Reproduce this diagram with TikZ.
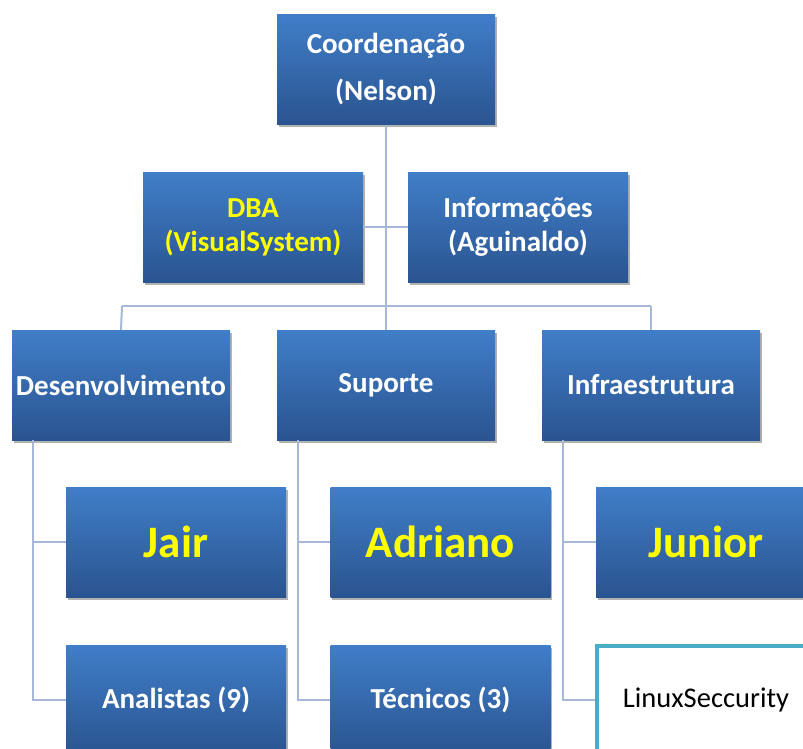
\documentclass[tikz,border=0pt]{standalone}
\usepackage{fontspec}
\setmainfont{Carlito}
\usetikzlibrary{shadows}
\definecolor{boxtop}{RGB}{64,126,200}
\definecolor{boxbot}{RGB}{42,84,144}
\definecolor{conn}{RGB}{165,184,218}
\definecolor{teal}{RGB}{75,172,198}
\definecolor{yel}{RGB}{255,255,0}
\tikzset{
  orgbox/.style={rectangle, inner sep=0pt, minimum width=218pt, minimum height=110pt,
    top color=boxtop, bottom color=boxbot, draw=none, text=white, align=center,
    font=\bfseries\fontsize{29}{34}\selectfont,
    drop shadow={shadow xshift=1.5pt, shadow yshift=-3pt, opacity=0.3, fill=black}},
  bigname/.style={orgbox, minimum width=220pt, text=yel, font=\bfseries\fontsize{45}{50}\selectfont},
  whitebox/.style={rectangle, inner sep=0pt, minimum width=218pt, minimum height=108pt,
    fill=white, draw=teal, line width=4pt, text=black, font=\fontsize{28.5}{34}\selectfont},
  link/.style={draw=conn, line width=2pt}
}
\begin{document}
\begin{tikzpicture}[x=1pt,y=1pt]
\useasboundingbox (0,0) rectangle (803,-749);
\clip (0,0) rectangle (803,-749);
\fill[white] (0,0) rectangle (803,-749);
\coordinate (bar) at (386,-306);
\coordinate (barL) at (122,-306);
\coordinate (barR) at (651,-306);
\coordinate (dl) at (33,-440);
\coordinate (sl) at (298,-440);
\coordinate (il) at (563,-440);
\node[orgbox, font=\bfseries\fontsize{29}{47}\selectfont] (coord) at (386,-69.5) {Coordenação\\(Nelson)};
\node[orgbox, minimum width=220pt, text=yel] (dba) at (253,-227) {DBA\\(VisualSystem)};
\node[orgbox, minimum width=220pt] (info) at (518,-227) {Informações\\(Aguinaldo)};
\node[orgbox] (dev) at (121,-385) {Desenvolvimento};
\node[orgbox] (sup) at (386,-385) {Suporte};
\node[orgbox] (inf) at (651,-385) {Infraestrutura};
\node[bigname] (jair) at (176,-542) {Jair};
\node[bigname] (adr) at (440.5,-542) {Adriano};
\node[bigname] (jun) at (706,-542) {Junior};
\node[orgbox, minimum width=220pt] (ana) at (176,-700) {Analistas (9)};
\node[orgbox, minimum width=220pt] (tec) at (440.5,-700) {Técnicos (3)};
\node[whitebox] (lin) at (706,-700) {LinuxSeccurity};
\draw[link] (coord.south) -- (bar);
\draw[link] (dba.east) -- (info.west);
\draw[link] (barL) -- (barR);
\draw[link] (barL) -- (dev.north);
\draw[link] (bar) -- (sup.north);
\draw[link] (barR) -- (inf.north);
\draw[link] (dl) |- (ana.west);
\draw[link] (dl |- jair.west) -- (jair.west);
\draw[link] (sl) |- (tec.west);
\draw[link] (sl |- adr.west) -- (adr.west);
\draw[link] (il) |- (lin.west);
\draw[link] (il |- jun.west) -- (jun.west);
\end{tikzpicture}
\end{document}
